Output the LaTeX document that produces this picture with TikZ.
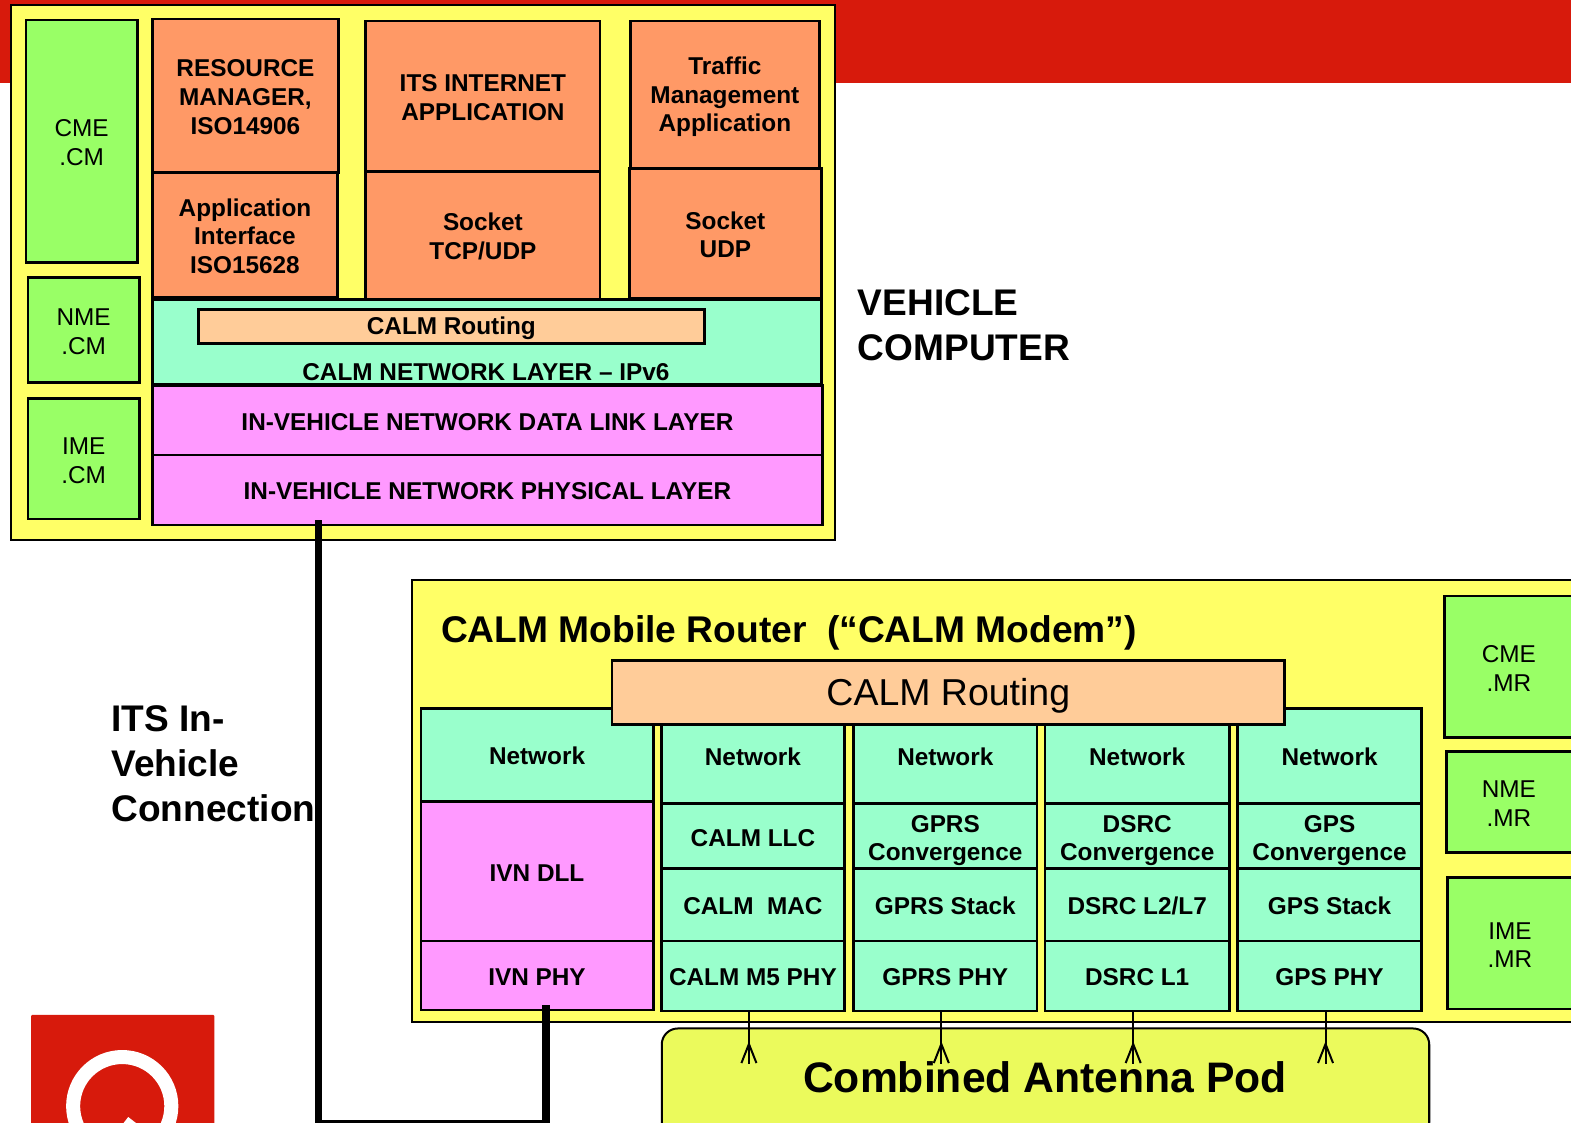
\documentclass[tikz,border=0pt]{standalone}
\usepackage{fontspec}
\setmainfont{Liberation Sans}
\usetikzlibrary{arrows.meta}
\usetikzlibrary{calc}

\definecolor{hostyellow}{HTML}{FFFF66}
\definecolor{apporange}{HTML}{FF9966}
\definecolor{mgmtgreen}{HTML}{99FF66}
\definecolor{netgreen}{HTML}{99FFCC}
\definecolor{linkpink}{HTML}{FF99FF}
\definecolor{routepeach}{HTML}{FFCC99}
\definecolor{podyellow}{HTML}{EBFA5C}
\definecolor{bandred}{HTML}{D71A0C}

\tikzset{
	panel/.style={draw=black,line width=2pt,fill=hostyellow},
	cell/.style={draw=black,line width=2.6pt,inner sep=0pt,outer sep=0pt,align=center,
		font=\fontsize{24.3}{28.6}\selectfont\bfseries},
	app/.style={cell,fill=apporange},
	mgmt/.style={cell,fill=mgmtgreen,font=\fontsize{24.3}{28.6}\selectfont},
	net/.style={cell,fill=netgreen},
	ivn/.style={cell,fill=linkpink},
	route/.style={cell,fill=routepeach},
	caption/.style={inner sep=0pt,align=left,font=\fontsize{37}{45}\selectfont\bfseries},
	link/.style={line width=7.5pt,line join=miter},
	feed/.style={line width=2pt},
	barb/.style={line width=2pt,-{Straight Barb[reversed,length=19pt,width=15pt,line width=2pt]}}
}
% corner to corner box: style, name, x0, y0, x1, y1, text
\newcommand{\layerbox}[7]{
	\node[#1,anchor=north west,minimum width={(#5-#3)*1pt},minimum height={(#6-#4)*1pt}] (#2) at (#3,#4) {\rule{0pt}{20pt}#7};
}

\begin{document}
\begin{tikzpicture}[x=1pt,y=-1pt]
	\useasboundingbox (0,0) rectangle (1568,1120);
	\clip (0,0) rectangle (1568,1120);

	% band and logo
	\fill[bandred] (0,0) rectangle (1568,83);
	\fill[bandred,rounded corners=1pt] (31,1013) rectangle (214,1130);
	\draw[white,line width=14pt] (122,1104) circle (49);
	\draw[white,line width=13pt] (124,1120) -- (150,1140);

	% vehicle computer
	\draw[panel] (11,5) rectangle (833,539);
	\layerbox{mgmt}{cmecm}{26}{20}{137}{262}{CME\\.CM}
	\layerbox{mgmt}{nmecm}{28}{277}{139}{382}{NME\\.CM}
	\layerbox{mgmt}{imecm}{28}{398}{139}{518}{IME\\.CM}

	\layerbox{app}{resource}{152}{19}{338}{172}{RESOURCE\\MANAGER,\\ISO14906}
	\layerbox{app}{appif}{152}{172}{337}{297}{Application\\Interface\\ISO15628}
	\layerbox{app}{itsapp}{365}{21}{599}{171}{ITS INTERNET\\APPLICATION}
	\layerbox{app}{socktcp}{365}{171}{599}{299}{Socket\\TCP/UDP}
	\layerbox{app}{traffic}{629}{21}{818}{168}{\rule{0pt}{22pt}Traffic\\Management\\Application}
	\layerbox{app}{sockudp}{628}{168}{820}{298}{Socket\\UDP}

	\layerbox{net}{netcm}{152}{299}{820}{384}{}
	\layerbox{route}{routecm}{198}{309}{703}{343}{CALM Routing}
	\node[font=\fontsize{24.3}{29}\selectfont\bfseries,inner sep=0pt] (netcmtext) at (485,371) {CALM NETWORK LAYER -- IPv6};
	\layerbox{ivn}{invdll}{152}{385}{821}{454}{IN-VEHICLE NETWORK DATA LINK LAYER}
	\layerbox{ivn}{invphy}{152}{454}{821}{524}{IN-VEHICLE NETWORK PHYSICAL LAYER}

	\node[caption,anchor=west] (vehicle) at (856,325) {VEHICLE\\COMPUTER};

	% mobile router
	\draw[panel] (411,579) rectangle (1590,1020);
	\node[caption,anchor=west,font=\fontsize{37.1}{45}\selectfont\bfseries] (router) at (440,632) {CALM Mobile Router~~(“CALM Modem”)};

	\layerbox{net}{net1}{420}{707}{652}{800}{Network}
	\layerbox{ivn}{ivndll}{420}{800}{652}{939}{IVN DLL}
	\layerbox{ivn}{ivnphy}{420}{939}{652}{1008}{IVN PHY}

	\layerbox{net}{net2}{660}{707}{843}{802}{Network}
	\layerbox{net}{llc2}{660}{802}{843}{867}{CALM LLC}
	\layerbox{net}{mac2}{660}{867}{843}{939}{CALM~~MAC}
	\layerbox{net}{phy2}{660}{939}{843}{1009}{CALM M5 PHY}

	\layerbox{net}{net3}{852}{707}{1035}{802}{Network}
	\layerbox{net}{llc3}{852}{802}{1035}{867}{\rule{0pt}{26pt}GPRS\\Convergence}
	\layerbox{net}{mac3}{852}{867}{1035}{939}{GPRS Stack}
	\layerbox{net}{phy3}{852}{939}{1035}{1009}{GPRS PHY}

	\layerbox{net}{net4}{1043}{707}{1227}{802}{Network}
	\layerbox{net}{llc4}{1043}{802}{1227}{867}{\rule{0pt}{26pt}DSRC\\Convergence}
	\layerbox{net}{mac4}{1043}{867}{1227}{939}{DSRC L2/L7}
	\layerbox{net}{phy4}{1043}{939}{1227}{1009}{DSRC L1}

	\layerbox{net}{net5}{1235}{707}{1419}{802}{Network}
	\layerbox{net}{llc5}{1235}{802}{1419}{867}{\rule{0pt}{26pt}GPS\\Convergence}
	\layerbox{net}{mac5}{1235}{867}{1419}{939}{GPS Stack}
	\layerbox{net}{phy5}{1235}{939}{1419}{1009}{GPS PHY}

	\layerbox{route}{routemr}{611}{659}{1282}{723}{\fontsize{37.4}{45}\selectfont\mdseries\rule{0pt}{35pt}CALM Routing}

	\layerbox{mgmt}{cmemr}{1442}{595}{1580}{736}{\hspace{-10pt}CME\\\hspace{-10pt}.MR}
	\layerbox{mgmt}{nmemr}{1444}{750}{1580}{851}{\hspace{-12pt}NME\\\hspace{-12pt}.MR}
	\layerbox{mgmt}{imemr}{1445}{876}{1580}{1007}{\hspace{-11pt}IME\\\hspace{-11pt}.MR}

	% antenna pod
	\node[draw=black,line width=2pt,fill=podyellow,rounded corners=16pt,anchor=north west,
		minimum width=766pt,minimum height=110pt,inner sep=0pt] (pod) at (659.5,1025.5) {};
	\node[inner sep=0pt,font=\fontsize{42.6}{50}\selectfont\bfseries] (podtext) at (1043,1075) {Combined Antenna Pod};
	\foreach \i in {2,...,5}{
		\coordinate (tap\i) at ($(phy\i.south)+(-4,0)$);
		\coordinate (feed\i) at ($(tap\i)+(0,53)$);
		\draw[feed] (tap\i) -- (feed\i);
		\draw[barb] (tap\i) -- (feed\i);
	}

	% in-vehicle connection
	\node[caption,anchor=west] (itsconn) at (111,762) {ITS In-\\Vehicle\\Connection};
	\coordinate (busL) at (318,1122);
	\coordinate (busR) at (545,1122);
	\draw[link] ($(invphy.south -| busL)+(0,-5)$) -- (busL) -- (busR) -- ($(ivnphy.south -| busR)+(0,-5)$);
\end{tikzpicture}
\end{document}
